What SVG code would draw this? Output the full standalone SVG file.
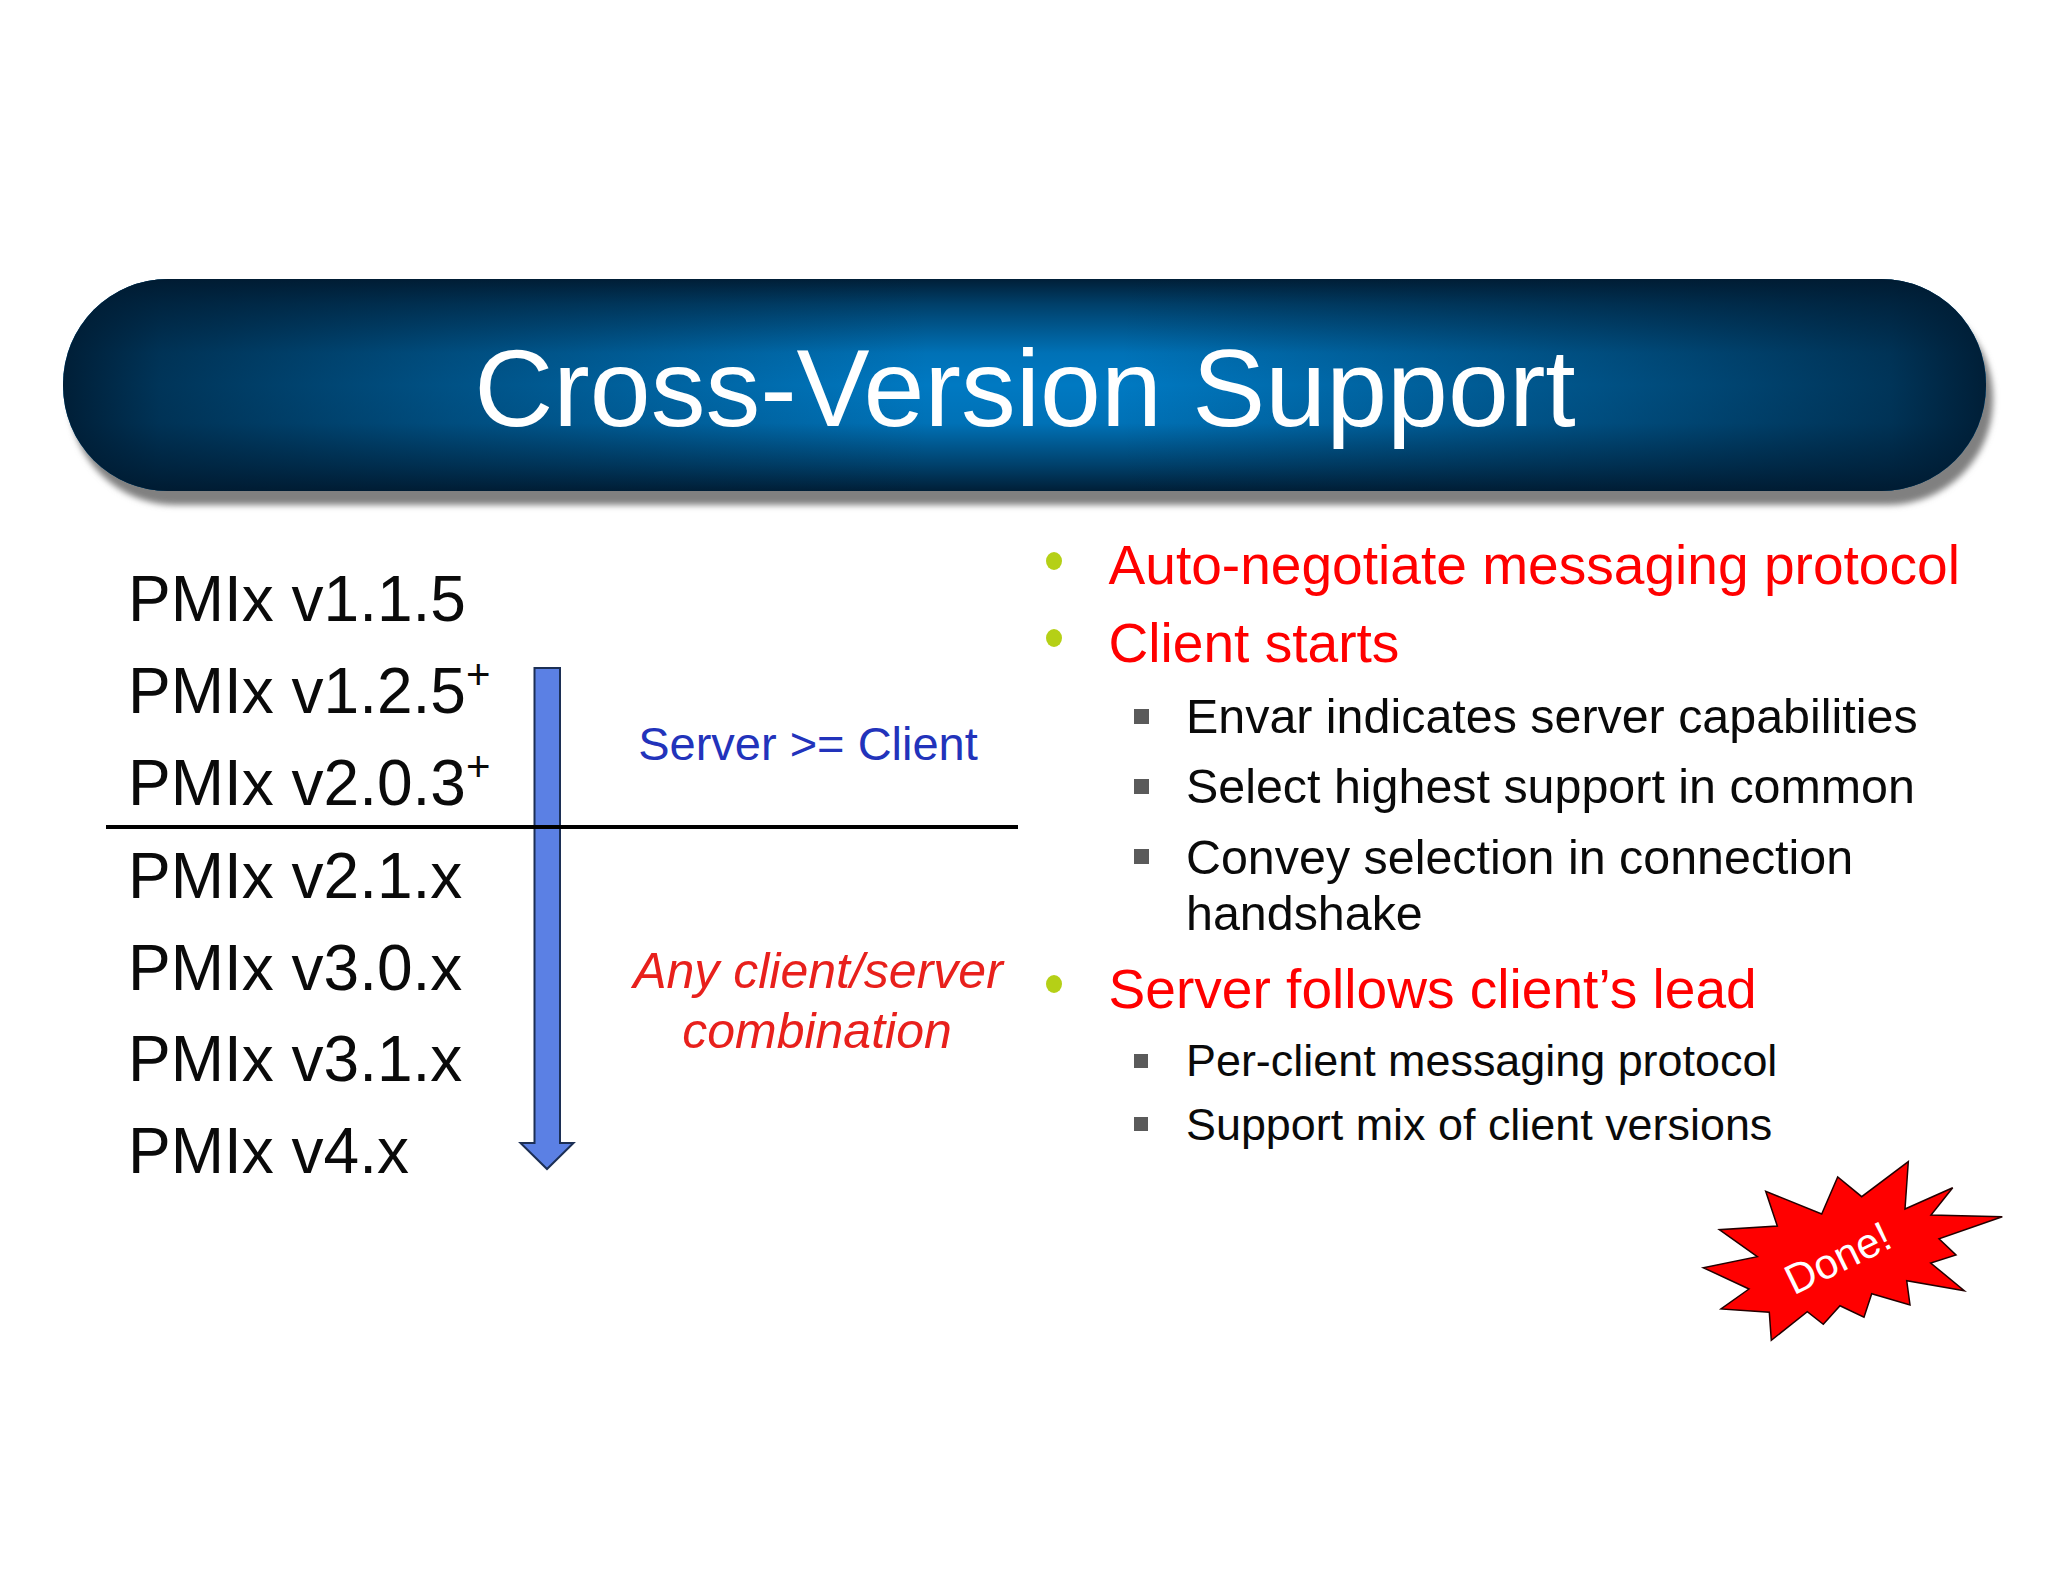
<svg xmlns="http://www.w3.org/2000/svg" width="2048" height="1582" viewBox="0 0 2048 1582">
<defs>
<linearGradient id="gv" x1="0" y1="0" x2="0" y2="1">
<stop offset="0" stop-color="#001a30" stop-opacity=".95"/><stop offset=".12" stop-color="#001a30" stop-opacity=".6"/><stop offset=".35" stop-color="#001a30" stop-opacity=".08"/><stop offset=".5" stop-color="#001a30" stop-opacity="0"/><stop offset=".68" stop-color="#001a30" stop-opacity=".08"/><stop offset=".88" stop-color="#001a30" stop-opacity=".6"/><stop offset="1" stop-color="#001a30" stop-opacity=".95"/>
</linearGradient>
<linearGradient id="gh" x1="0" y1="0" x2="1" y2="0">
<stop offset="0" stop-color="#001a30" stop-opacity=".95"/><stop offset=".05" stop-color="#001a30" stop-opacity=".72"/><stop offset=".2" stop-color="#001a30" stop-opacity=".42"/><stop offset=".45" stop-color="#001a30" stop-opacity="0"/><stop offset=".55" stop-color="#001a30" stop-opacity="0"/><stop offset=".8" stop-color="#001a30" stop-opacity=".42"/><stop offset=".95" stop-color="#001a30" stop-opacity=".72"/><stop offset="1" stop-color="#001a30" stop-opacity=".95"/>
</linearGradient>
<filter id="soft" x="-5%" y="-20%" width="110%" height="140%"><feGaussianBlur stdDeviation="3"/></filter>
</defs>
<style>
text{font-family:"Liberation Sans",Arial,sans-serif}
.v{font-size:64px;fill:#0a0a0a}
.r{font-size:55.1px;fill:#f00}
.s{font-size:48.4px;fill:#0a0a0a}
.t{font-size:44.9px;fill:#0a0a0a}
.g{fill:#b5d016}
.q{fill:#5a5a5a}
</style>
<rect width="2048" height="1582" fill="#fff"/>
<g id="title-bar">
<rect x="70" y="293" width="1923" height="212" rx="105" fill="#808080" filter="url(#soft)"/>
<rect x="63" y="279" width="1923" height="212" rx="105" fill="#0079c2"/>
<rect x="63" y="279" width="1923" height="212" rx="105" fill="url(#gv)"/>
<rect x="63" y="279" width="1923" height="212" rx="105" fill="url(#gh)"/>
<text x="1025" y="426" font-size="109.5" fill="#fff" text-anchor="middle">Cross-Version Support</text>
</g>
<g id="versions">
<text class="v" x="128" y="620.5">PMIx v1.1.5</text>
<text class="v" x="128" y="713">PMIx v1.2.5<tspan font-size="42" dy="-24">+</tspan></text>
<text class="v" x="128" y="804.5">PMIx v2.0.3<tspan font-size="42" dy="-24">+</tspan></text>
<text class="v" x="128" y="898">PMIx v2.1.x</text>
<text class="v" x="128" y="990">PMIx v3.0.x</text>
<text class="v" x="128" y="1081">PMIx v3.1.x</text>
<text class="v" x="128" y="1172.5">PMIx v4.x</text>
</g>
<g id="connectors">
<path d="M534.5 668H560V1143H573.5L547 1169L520.5 1143H534.5Z" fill="#5b80e4" stroke="#1c2f55" stroke-width="2"/>
<line x1="106" y1="827" x2="1018" y2="827" stroke="#000" stroke-width="4"/>
</g>
<g id="label-server">
<text x="808" y="759.5" font-size="47" fill="#2233bb" text-anchor="middle">Server &gt;= Client</text>
</g>
<g id="label-any">
<text x="818" y="987.5" font-size="50" font-style="italic" fill="#e8201c" text-anchor="middle">Any client/server</text>
<text x="817" y="1047.5" font-size="50" font-style="italic" fill="#e8201c" text-anchor="middle">combination</text>
</g>
<g id="bullets">
<ellipse class="g" cx="1054" cy="561" rx="8" ry="9"/>
<ellipse class="g" cx="1054" cy="638" rx="8" ry="9"/>
<ellipse class="g" cx="1054" cy="984" rx="8" ry="9"/>
<rect class="q" x="1134" y="709" width="15" height="15"/>
<rect class="q" x="1134" y="779" width="15" height="15"/>
<rect class="q" x="1134" y="849" width="15" height="15"/>
<rect class="q" x="1134" y="1054" width="14" height="14"/>
<rect class="q" x="1134" y="1117" width="14" height="14"/>
<text class="r" x="1108.5" y="584">Auto-negotiate messaging protocol</text>
<text class="r" x="1108.5" y="662">Client starts</text>
<text class="s" x="1186" y="733">Envar indicates server capabilities</text>
<text class="s" x="1186" y="803">Select highest support in common</text>
<text class="s" x="1186" y="874">Convey selection in connection</text>
<text class="s" x="1186" y="930">handshake</text>
<text class="r" x="1108.5" y="1008">Server follows client’s lead</text>
<text class="t" x="1186" y="1076">Per-client messaging protocol</text>
<text class="t" x="1186" y="1140">Support mix of client versions</text>
</g>
<g id="done">
<polygon points="1908.3,1161.7 1905,1209 1952.7,1187.7 1931,1215 2002.3,1216.7 1939,1238.7 1956,1255 1930.7,1263 1964.3,1290.7 1906.7,1280.7 1910,1305 1871.7,1293.7 1864,1317.3 1840,1305.7 1823.3,1324.3 1807.3,1311.7 1771.3,1340.3 1769.3,1312.3 1721,1309 1749,1289 1703.3,1267.7 1757.3,1256.7 1719.3,1229.7 1777.3,1226 1765.7,1191.3 1821.7,1214 1837.7,1177 1861.7,1196.7" fill="#f00" stroke="#200" stroke-width="1.5"/>
<text x="0" y="0" font-size="42" fill="#fff" text-anchor="middle" transform="translate(1844,1271) rotate(-26)">Done!</text>
</g>
</svg>
